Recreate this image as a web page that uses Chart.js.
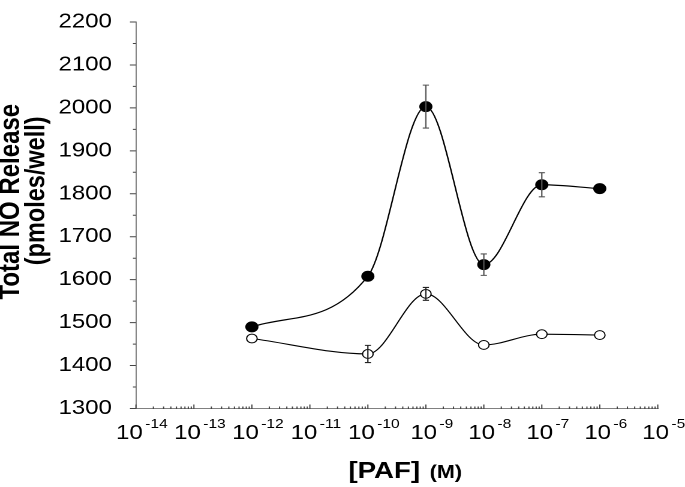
<!DOCTYPE html>
<html>
<head>
<meta charset="utf-8">
<script src="https://cdn.jsdelivr.net/npm/chart.js@4"></script>
<style>
  html, body { margin: 0; padding: 0; background: #fff; overflow: hidden; }
  #wrap { width: 685px; height: 487px; }
</style>
</head>
<body>
<div id="wrap"><canvas id="c" width="571" height="487" style="width:685px;height:487px;display:block;"></canvas></div>
<script>
// ---- data ----
const concentrations = [1e-12, 1e-10, 1e-9, 1e-8, 1e-7, 1e-6];
const pafValues      = [1490, 1608, 2003, 1635, 1821, 1812];   // filled circles
const pafErrors      = [0, 0, 50, 25, 28, 0];
const controlValues  = [1463, 1427, 1567, 1448, 1473, 1471];   // open circles
const controlErrors  = [0, 20, 15, 0, 0, 0];
const xTickExponents = [-14, -13, -12, -11, -10, -9, -8, -7, -6, -5];
const yTickValues    = [1300, 1400, 1500, 1600, 1700, 1800, 1900, 2000, 2100, 2200];
const yTitleLines    = ['Total NO Release', '(pmoles/well)'];
const xTitleMain     = '[PAF]';
const xTitleUnit     = '(M)';

const FONT = '"Liberation Sans", Arial, Helvetica, sans-serif';

const errorSets = [pafErrors, controlErrors];

const axisPlugin = {
  id: 'axisDecor',
  afterDatasetsDraw(chart) {
    const ctx = chart.ctx;
    const xs = chart.scales.x, ys = chart.scales.y;
    ctx.save();
    ctx.lineWidth = 1.1;
    chart.data.datasets.forEach((ds, di) => {
      const errs = errorSets[di];
      ds.data.forEach((p, i) => {
        const e = errs[i];
        if (!e) return;
        const x = xs.getPixelForValue(p.x);
        const y1 = ys.getPixelForValue(p.y + e);
        const y2 = ys.getPixelForValue(p.y - e);
        ctx.strokeStyle = di === 0 ? '#555' : '#222';
        ctx.beginPath();
        ctx.moveTo(x, y1); ctx.lineTo(x, y2);
        ctx.moveTo(x - 2.6, y1); ctx.lineTo(x + 2.6, y1);
        ctx.moveTo(x - 2.6, y2); ctx.lineTo(x + 2.6, y2);
        ctx.stroke();
      });
    });
    ctx.restore();
  },
  afterDraw(chart) {
    const ctx = chart.ctx;
    const xs = chart.scales.x, ys = chart.scales.y;
    const area = chart.chartArea;
    ctx.save();
    ctx.strokeStyle = '#444';
    ctx.lineWidth = 1;
    // y ticks (major + minor), pointing left
    ctx.beginPath();
    for (let i = 0; i < yTickValues.length; i++) {
      const y = ys.getPixelForValue(yTickValues[i]);
      ctx.moveTo(area.left - 5, y); ctx.lineTo(area.left, y);
      if (i < yTickValues.length - 1) {
        const ym = ys.getPixelForValue((yTickValues[i] + yTickValues[i + 1]) / 2);
        ctx.moveTo(area.left - 2.5, ym); ctx.lineTo(area.left, ym);
      }
    }
    // x ticks (log major + minor), pointing up
    const yb = area.bottom;
    xTickExponents.forEach((e, k) => {
      const x = xs.getPixelForValue(Math.pow(10, e));
      ctx.moveTo(x, yb - 4); ctx.lineTo(x, yb + 0.5);
      if (k < xTickExponents.length - 1) {
        for (let m = 2; m <= 9; m++) {
          const xm = xs.getPixelForValue(m * Math.pow(10, e));
          ctx.moveTo(xm, yb - 2); ctx.lineTo(xm, yb + 0.5);
        }
      }
    });
    ctx.stroke();

    // x tick labels 10^n
    ctx.fillStyle = '#000';
    ctx.textBaseline = 'alphabetic';
    ctx.textAlign = 'left';
    xTickExponents.forEach(e => {
      const x = xs.getPixelForValue(Math.pow(10, e));
      const base = '10', sup = String(e);
      ctx.font = '20px ' + FONT;
      const w1 = ctx.measureText(base).width;
      ctx.font = '13px ' + FONT;
      const w2 = ctx.measureText(sup).width;
      const total = w1 + 2 + w2;
      const start = x + 5 - total / 2;
      ctx.font = '20px ' + FONT;
      ctx.fillText(base, start, 439);
      ctx.font = '13px ' + FONT;
      ctx.fillText(sup, start + w1 + 2, 428);
    });

    // x title
    ctx.font = 'bold 23px ' + FONT;
    const wm = ctx.measureText(xTitleMain).width;
    ctx.font = 'bold 18px ' + FONT;
    const wu = ctx.measureText(xTitleUnit).width;
    const cx = (area.left + area.right) / 2 + 7;
    const sx = cx - (wm + 8 + wu) / 2;
    ctx.font = 'bold 23px ' + FONT;
    ctx.fillText(xTitleMain, sx, 478);
    ctx.font = 'bold 18px ' + FONT;
    ctx.fillText(xTitleUnit, sx + wm + 8, 478);

    // y title (two lines, rotated)
    ctx.textAlign = 'center';
    ctx.textBaseline = 'middle';
    const yPos = [[9.2, 201.7, 24], [30.3, 190.8, 23.5]];
    yTitleLines.forEach((t, i) => {
      ctx.save();
      ctx.translate(yPos[i][0], yPos[i][1]);
      ctx.rotate(-Math.PI / 2);
      ctx.font = 'bold ' + yPos[i][2] + 'px ' + FONT;
      ctx.fillText(t, 0, 0);
      ctx.restore();
    });
    ctx.restore();
  }
};

new Chart(document.getElementById('c'), {
  type: 'line',
  data: {
    datasets: [
      {
        label: 'PAF',
        data: concentrations.map((x, i) => ({ x, y: pafValues[i] })),
        borderColor: '#000',
        borderWidth: 1.2,
        backgroundColor: '#000',
        pointBackgroundColor: '#000',
        pointBorderColor: '#000',
        pointBorderWidth: 1,
        pointRadius: 5,
        cubicInterpolationMode: 'monotone',
        fill: false
      },
      {
        label: 'Control',
        data: concentrations.map((x, i) => ({ x, y: controlValues[i] })),
        borderColor: '#000',
        borderWidth: 1.1,
        backgroundColor: '#fff',
        pointBackgroundColor: '#fff',
        pointBorderColor: '#000',
        pointBorderWidth: 1,
        pointRadius: 4.4,
        cubicInterpolationMode: 'monotone',
        fill: false
      }
    ]
  },
  options: {
    responsive: false,
    devicePixelRatio: 2,
    animation: false,
    layout: { padding: { top: 10, right: 22.7, left: 0, bottom: 0 } },
    plugins: { legend: { display: false }, tooltip: { enabled: false } },
    scales: {
      x: {
        type: 'logarithmic',
        min: 1e-14,
        max: 1e-5,
        grid: { display: false },
        ticks: { display: false },
        border: { display: true, color: '#808080', width: 1 },
        afterFit(s) { s.height = 78.5; }
      },
      y: {
        min: yTickValues[0],
        max: yTickValues[yTickValues.length - 1],
        afterBuildTicks(s) { s.ticks = yTickValues.map(v => ({ value: v })); },
        ticks: {
          color: '#000',
          padding: 12,
          font: { family: FONT, size: 20, lineHeight: 1 },
          callback: v => String(v)
        },
        grid: { display: false },
        border: { display: true, color: '#808080', width: 1 },
        afterFit(s) { s.width = 113.3; }
      }
    }
  },
  plugins: [axisPlugin]
});
</script>
</body>
</html>
